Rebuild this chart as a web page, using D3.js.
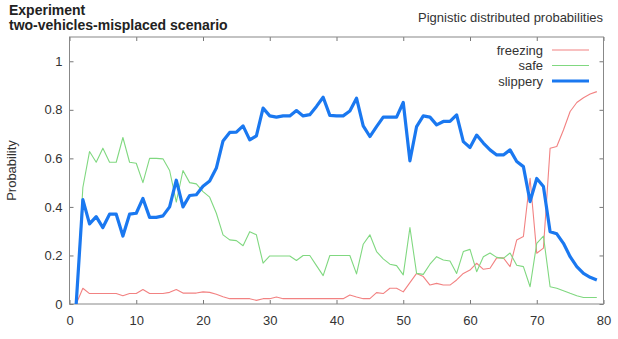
<!DOCTYPE html>
<meta charset="utf-8">
<script src="https://cdn.jsdelivr.net/npm/d3@7"></script>
<style>
body { margin: 0; background: #fff; }
text { font-family: "Liberation Sans", Arial, sans-serif; fill: #333; }
.axis path { display: none; }
.axis line { stroke: #777; }
.axis text { font-size: 13px; fill: #333; font-family: "Liberation Sans", Arial, sans-serif; }
path.line { fill: none; stroke-linejoin: round; }
</style>
<body>
<script>

// time steps of the experiment
var steps = d3.range(1, 80);

var freezing = [0, 0.065, 0.043, 0.043, 0.043, 0.043, 0.043, 0.034, 0.043, 0.043,
  0.06, 0.043, 0.043, 0.043, 0.048, 0.06, 0.045, 0.045, 0.045, 0.05,
  0.048, 0.04, 0.03, 0.022, 0.022, 0.022, 0.022, 0.015, 0.022, 0.022,
  0.029, 0.022, 0.022, 0.022, 0.022, 0.022, 0.022, 0.022, 0.022, 0.022,
  0.022, 0.037, 0.029, 0.022, 0.022, 0.047, 0.043, 0.065, 0.065, 0.05,
  0.088, 0.126, 0.113, 0.078, 0.085, 0.078, 0.078, 0.099, 0.126, 0.14,
  0.168, 0.143, 0.147, 0.19, 0.19, 0.154, 0.264, 0.278, 0.518, 0.209,
  0.23, 0.642, 0.649, 0.717, 0.793, 0.83, 0.85, 0.865, 0.875];

var safe = [0, 0.48, 0.628, 0.584, 0.642, 0.584, 0.584, 0.686, 0.584, 0.58,
  0.5, 0.6, 0.6, 0.598, 0.55, 0.42, 0.55, 0.5, 0.495, 0.463,
  0.44, 0.374, 0.285, 0.264, 0.261, 0.24, 0.298, 0.285, 0.168, 0.198,
  0.198, 0.198, 0.198, 0.179, 0.2, 0.2, 0.158, 0.117, 0.2, 0.2,
  0.2, 0.2, 0.124, 0.246, 0.285, 0.216, 0.186, 0.164, 0.158, 0.12,
  0.315, 0.126, 0.122, 0.164, 0.195, 0.181, 0.177, 0.126, 0.216, 0.225,
  0.133, 0.195, 0.21, 0.192, 0.188, 0.21, 0.16, 0.154, 0.071, 0.25,
  0.28, 0.071, 0.065, 0.055, 0.044, 0.034, 0.027, 0.027, 0.027];

var slippery = [0, 0.43, 0.33, 0.36, 0.315, 0.37, 0.37, 0.28, 0.37, 0.374,
  0.435, 0.357, 0.357, 0.363, 0.4, 0.51, 0.4, 0.447, 0.45, 0.485,
  0.507, 0.56, 0.672, 0.707, 0.708, 0.734, 0.676, 0.693, 0.807, 0.775,
  0.77, 0.775, 0.775, 0.797, 0.775, 0.78, 0.814, 0.852, 0.777, 0.775,
  0.775, 0.795, 0.848, 0.734, 0.69, 0.731, 0.77, 0.77, 0.77, 0.83,
  0.59, 0.731, 0.775, 0.77, 0.738, 0.752, 0.752, 0.779, 0.669, 0.645,
  0.696, 0.663, 0.635, 0.614, 0.614, 0.635, 0.587, 0.566, 0.422, 0.517,
  0.484, 0.298, 0.289, 0.25, 0.195, 0.154, 0.126, 0.11, 0.099];

var seriesNames = ["freezing", "safe", "slippery"];
var seriesColors = ["#f28282", "#80d880", "#1a78f0"];
var seriesWidths = [1.1, 1.1, 3.2];
var seriesValues = [freezing, safe, slippery];

var xTicks = [0, 10, 20, 30, 40, 50, 60, 70, 80];
var yTicks = [0, 0.2, 0.4, 0.6, 0.8, 1];

var width = 618,
    height = 339;
var margin = {left: 69.5, right: 14.5, top: 37, bottom: 35};

var svg = d3.select("body").append("svg")
    .attr("width", width)
    .attr("height", height);

var x = d3.scaleLinear().domain([0, 80]).range([margin.left, width - margin.right]);
var y = d3.scaleLinear().domain([0, 1.1]).range([height - margin.bottom, margin.top]);

// axes with inward ticks, mirrored on top and right
svg.append("g")
    .attr("class", "axis")
    .attr("transform", "translate(0," + y(0) + ")")
    .call(d3.axisBottom(x).tickValues(xTicks).tickSize(-4).tickPadding(12));

svg.append("g")
    .attr("class", "axis")
    .attr("transform", "translate(0," + y(1.1) + ")")
    .call(d3.axisTop(x).tickValues(xTicks).tickSize(-4).tickFormat(""));

svg.append("g")
    .attr("class", "axis")
    .attr("transform", "translate(" + x(0) + ",0)")
    .call(d3.axisLeft(y).tickValues(yTicks).tickSize(-4).tickPadding(7).tickFormat(d3.format("")));

svg.append("g")
    .attr("class", "axis")
    .attr("transform", "translate(" + x(80) + ",0)")
    .call(d3.axisRight(y).tickValues(yTicks).tickSize(-4).tickFormat(""));

// border
svg.append("rect")
    .attr("x", x(0))
    .attr("y", y(1.1))
    .attr("width", x(80) - x(0))
    .attr("height", y(0) - y(1.1))
    .attr("fill", "none")
    .attr("stroke", "#888")
    .attr("stroke-width", 1);

// lines
var line = d3.line()
    .x(function(d, i) { return x(steps[i]); })
    .y(function(d) { return y(d); });

seriesValues.forEach(function(vals, k) {
  svg.append("path")
      .attr("class", "line")
      .attr("d", line(vals))
      .attr("stroke", seriesColors[k])
      .attr("stroke-width", seriesWidths[k]);
});

// legend
var legend = svg.append("g").selectAll("g")
    .data(seriesNames)
  .enter().append("g")
    .attr("transform", function(d, i) { return "translate(0," + (50 + i * 15.5) + ")"; });

legend.append("text")
    .attr("x", 543)
    .attr("dy", "0.35em")
    .attr("text-anchor", "end")
    .style("font-size", "13px")
    .text(function(d) { return d; });

legend.append("line")
    .attr("x1", 552)
    .attr("x2", 589)
    .attr("stroke", function(d, i) { return seriesColors[i]; })
    .attr("stroke-width", function(d, i) { return seriesWidths[i]; });

// titles
svg.append("text")
    .attr("x", 9)
    .attr("y", 15)
    .style("font-size", "14px")
    .style("font-weight", "bold")
    .style("fill", "#222")
    .text("Experiment");

svg.append("text")
    .attr("x", 9)
    .attr("y", 30)
    .style("font-size", "14px")
    .style("font-weight", "bold")
    .style("fill", "#222")
    .text("two-vehicles-misplaced scenario");

svg.append("text")
    .attr("x", 603)
    .attr("y", 22)
    .attr("text-anchor", "end")
    .style("font-size", "13px")
    .text("Pignistic distributed probabilities");

svg.append("text")
    .attr("transform", "translate(16," + ((y(0) + y(1.1)) / 2) + ") rotate(-90)")
    .attr("text-anchor", "middle")
    .style("font-size", "13px")
    .text("Probability");

</script>
</body>
</html>
